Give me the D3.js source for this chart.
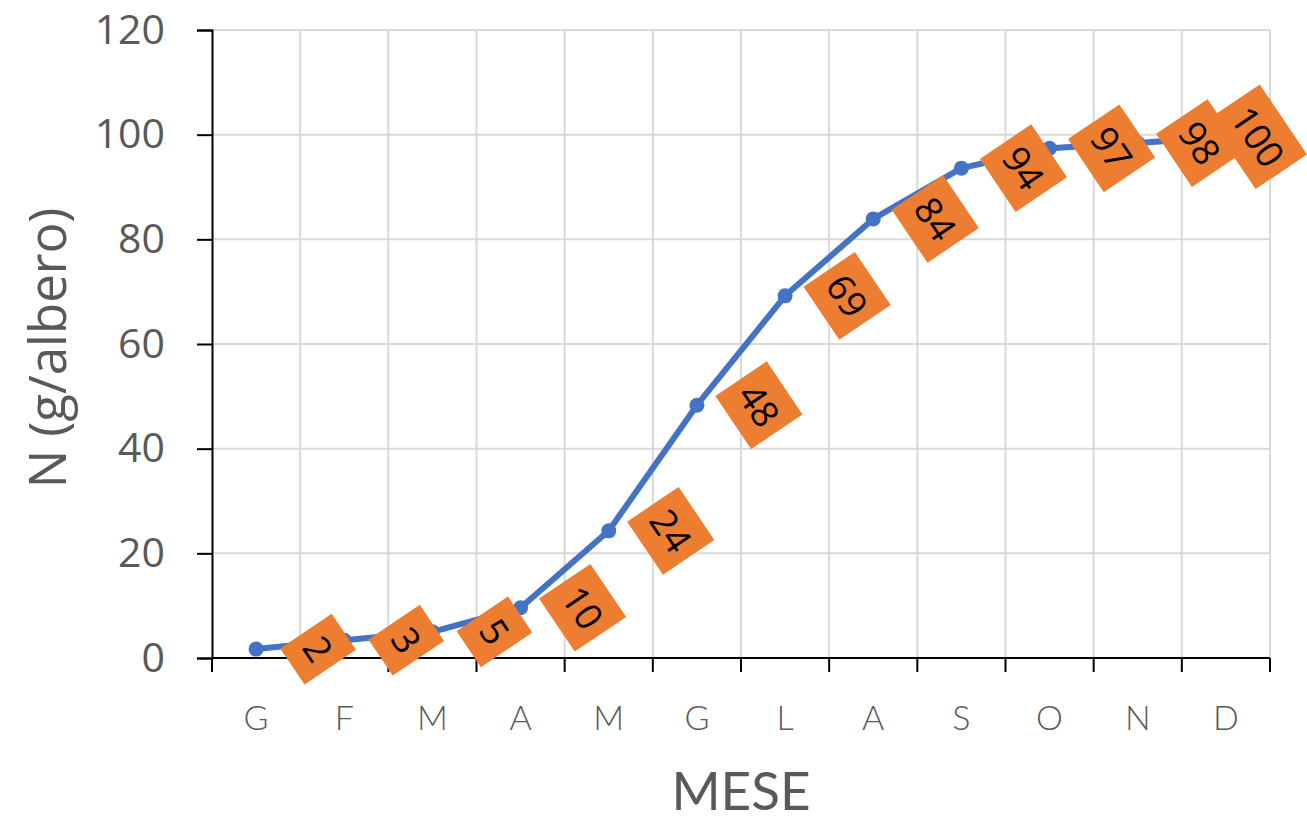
<!DOCTYPE html>
<html>
<head>
<meta charset="utf-8">
<script src="https://cdn.jsdelivr.net/npm/d3@7"></script>
<style>
  html, body { margin: 0; padding: 0; background: #fff; }
  svg { display: block; }
</style>
</head>
<body>
<svg id="chart" width="1307" height="822"></svg>
<script>
// Monthly cumulative nitrogen uptake per tree
const months = ["G", "F", "M", "A", "M", "G", "L", "A", "S", "O", "N", "D"];
const nitrogen = [1.7, 3.4, 5.0, 9.6, 24.3, 48.3, 69.2, 83.9, 93.6, 97.4, 98.4, 99.6];
const yTicks = [0, 20, 40, 60, 80, 100, 120];
const xTitle = "MESE";
const yTitle = "N (g/albero)";

const W = 1307, H = 822;
const margin = { left: 212, right: 37, top: 30, bottom: 164 };
const svg = d3.select("#chart");

const keys = months.map((m, i) => i);
const x = d3.scaleBand().domain(keys).range([margin.left, W - margin.right]);
const y = d3.scaleLinear().domain([0, 120]).range([H - margin.bottom, margin.top]);

const grid = "#d9d9d9";
const textCol = "#595959";

// horizontal gridlines
svg.append("g").selectAll("line").data(yTicks.filter(d => d > 0)).join("line")
  .attr("x1", x.range()[0]).attr("x2", x.range()[1])
  .attr("y1", d => y(d)).attr("y2", d => y(d))
  .attr("stroke", grid).attr("stroke-width", 2);

// vertical gridlines at category boundaries
const bounds = keys.map(k => x(k) + x.bandwidth());
svg.append("g").selectAll("line").data(bounds).join("line")
  .attr("x1", d => d).attr("x2", d => d)
  .attr("y1", y(120)).attr("y2", y(0))
  .attr("stroke", grid).attr("stroke-width", 2);

// y axis
const yAxis = d3.axisLeft(y).tickValues(yTicks).tickSize(15).tickPadding(32);
const gy = svg.append("g").attr("transform", `translate(${margin.left},0)`).call(yAxis);
gy.select(".domain").attr("stroke", "#000").attr("stroke-width", 2);
gy.selectAll(".tick line").attr("stroke", "#000").attr("stroke-width", 2);
gy.selectAll(".tick text")
  .attr("fill", textCol)
  .style("font-family", "'Open Sans', sans-serif")
  .style("font-size", "41px");

// x axis: ticks at band boundaries, labels at band centers
const gx = svg.append("g").attr("transform", `translate(0,${y(0)})`);
gx.append("line")
  .attr("x1", x.range()[0]).attr("x2", x.range()[1])
  .attr("y1", 0).attr("y2", 0)
  .attr("stroke", "#000").attr("stroke-width", 2);
const tickPos = [x.range()[0]].concat(bounds);
gx.selectAll("line.tk").data(tickPos).join("line").attr("class", "tk")
  .attr("x1", d => d).attr("x2", d => d)
  .attr("y1", 0).attr("y2", 14)
  .attr("stroke", "#000").attr("stroke-width", 2);
gx.selectAll("text").data(keys).join("text")
  .attr("x", d => x(d) + x.bandwidth() / 2)
  .attr("y", 72)
  .attr("text-anchor", "middle")
  .attr("fill", textCol)
  .style("font-family", "Lato, sans-serif")
  .style("font-weight", 300)
  .style("font-size", "34px")
  .text(d => months[d]);

// axis titles
svg.append("text")
  .attr("x", (x.range()[0] + x.range()[1]) / 2)
  .attr("y", 810)
  .attr("text-anchor", "middle")
  .attr("fill", textCol)
  .style("font-family", "Lato, sans-serif")
  .style("font-size", "53px")
  .text(xTitle);

svg.append("text")
  .attr("transform", `translate(66,${(y(0) + y(120)) / 2 + 4}) rotate(-90)`)
  .attr("text-anchor", "middle")
  .attr("fill", textCol)
  .style("font-family", "'Open Sans', sans-serif")
  .style("font-size", "51px")
  .text(yTitle);

// series line and markers
const cx = i => x(i) + x.bandwidth() / 2;
const line = d3.line().x((d, i) => cx(i)).y(d => y(d));
svg.append("path").datum(nitrogen)
  .attr("d", line)
  .attr("fill", "none")
  .attr("stroke", "#4472C4")
  .attr("stroke-width", 6)
  .attr("stroke-linejoin", "round");
svg.append("g").selectAll("circle").data(nitrogen).join("circle")
  .attr("cx", (d, i) => cx(i)).attr("cy", d => y(d))
  .attr("r", 7.5).attr("fill", "#4472C4");

// rotated data labels
const fmt = d3.format(".0f");
const angle = 56;
const rad = angle * Math.PI / 180;
const boxW = d => fmt(d).length * 20.5 + 23;
const boxH = 62;
const labels = svg.append("g").selectAll("g").data(nitrogen).join("g")
  .attr("transform", (d, i) => {
    const w = boxW(d);
    const half = (w * Math.cos(rad) + boxH * Math.sin(rad)) / 2;
    const px = Math.min(cx(i) + 62, W - half);
    return `translate(${px},${y(d)}) rotate(${angle})`;
  });
labels.append("rect")
  .attr("x", d => -boxW(d) / 2)
  .attr("y", -boxH / 2)
  .attr("width", boxW)
  .attr("height", boxH)
  .attr("fill", "#ED7D31");
labels.append("text")
  .attr("text-anchor", "middle")
  .attr("dy", "0.36em")
  .attr("fill", "#000")
  .style("font-family", "'Open Sans', sans-serif")
  .style("font-size", "37px")
  .text(d => fmt(d));
</script>
</body>
</html>
